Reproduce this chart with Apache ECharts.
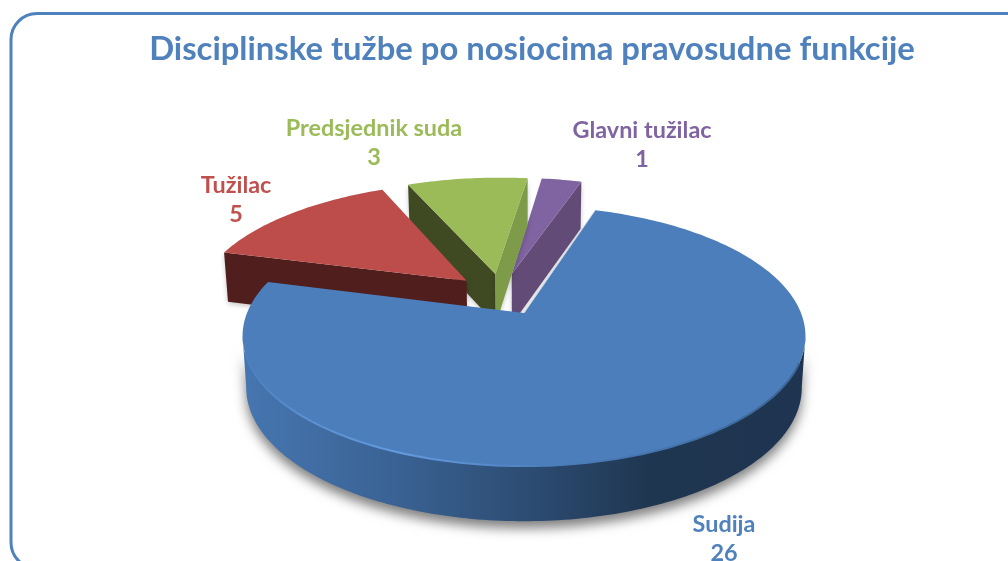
<!DOCTYPE html>
<html><head><meta charset="utf-8">
<style>html,body{margin:0;padding:0;background:#fff}#c{width:1008px;height:561px}</style>
<script src="https://cdn.jsdelivr.net/npm/echarts@6/dist/echarts.min.js"></script>
</head><body><div id="c"></div>
<script>
const categories = ['Sudija', 'Tužilac', 'Predsjednik suda', 'Glavni tužilac'];
const values = [26, 5, 3, 1];
const titleText = 'Disciplinske tužbe po nosiocima pravosudne funkcije';

const topColors = ['#4C7EBB', '#BC4D4A', '#9BBB59', '#8064A2'];
const startWallColors = ['#2B4A6F', '#4F1E1D', '#3F4A22', '#4F3D63'];
const endWallColors = ['#2B4A6F', '#4F1E1D', '#7E9B4A', '#634B78'];
const labelColors = ['#4F81BD', '#C0504D', '#9BBB59', '#8064A2'];
const labelAnchors = [[724, 524], [236, 185], [374, 128], [642, 130]];
const labelFont = 'bold 23.4px Lato, "Open Sans", sans-serif';

// perspective view of the pie plane
const view = { cx: 524, cy: 313, a: 277, b: 126, k: 0.177, depth: 51, shrink: 0.987, firstAngle: 17.5, explode: 0.175 };
const total = values.reduce((s, v) => s + v, 0);
const rad = d => d * Math.PI / 180;
const dir = d => [Math.sin(rad(d)), Math.cos(rad(d))];

function project(u, v, lower) {
  const w = 1 + view.k * v;
  let x = view.cx + view.a * u / w;
  let y = view.cy - view.b * v / w;
  if (lower) { x = view.cx + (x - view.cx) * view.shrink; y += view.depth / Math.pow(w, 0.4); }
  return [x, y];
}
function sliceAngles(i) {
  let s = view.firstAngle;
  for (let j = 0; j < i; j++) s += values[j] / total * 360;
  return [s, s + values[i] / total * 360];
}
const [a0, a1] = sliceAngles(0);
const baseDir = dir((a0 + a1) / 2);
const origin = [-view.explode * baseDir[0], -view.explode * baseDir[1]];

function renderItem(params, api) {
  const i = params.dataIndex;
  const val = api.value(0);
  const [s, e] = sliceAngles(i);
  const m = (s + e) / 2;
  const md = dir(m);
  const c = [origin[0] + view.explode * md[0], origin[1] + view.explode * md[1]];
  const pt = (deg, r, lower) => { const d = dir(deg); return project(c[0] + r * d[0], c[1] + r * d[1], lower); };
  const apex = pt(0, 0, false), apexLow = pt(0, 0, true);
  const arc = (from, to, lower) => {
    const out = [], n = Math.max(2, Math.ceil(Math.abs(to - from)));
    for (let t = 0; t <= n; t++) out.push(pt(from + (to - from) * t / n, 1, lower));
    return out;
  };
  const base = 10 * (categories.length - i);
  const children = [];
  // front of the outer rim
  const fs = Math.max(s, 100), fe = Math.min(e, 260);
  const isBlue = i === 0;
  if (fe > fs) {
    const fill = isBlue ? { type: 'linear', x: 243, y: 0, x2: 806, y2: 0, global: true, colorStops: [
      { offset: 0, color: '#4676B0' }, { offset: 0.25, color: '#3B6496' }, { offset: 0.5, color: '#2D4D74' },
      { offset: 0.72, color: '#1F3650' }, { offset: 1, color: '#1E3450' }] } : startWallColors[i];
    children.push({ type: 'polygon', z2: base, shape: { points: arc(fs, fe, false).concat(arc(fs, fe, true).reverse()) },
      style: { fill, shadowColor: 'rgba(0,0,0,0.5)', shadowBlur: 12, shadowOffsetY: 7 } });
  }
  // radial walls that face the viewer
  const mp = pt(m, 0.5, false);
  const wall = (deg, fill) => {
    const r = pt(deg, 1, false), rl = pt(deg, 1, true);
    const ex = r[0] - apex[0], ey = r[1] - apex[1];
    const inner = ex * (mp[1] - apex[1]) - ey * (mp[0] - apex[0]);
    if (ex * inner < 0) {
      children.push({ type: 'polygon', z2: base + 1, shape: { points: [apex, r, rl, apexLow] },
        style: { fill, shadowColor: 'rgba(0,0,0,0.22)', shadowBlur: 5, shadowOffsetY: 2 } });
    }
  };
  wall(s, startWallColors[i]);
  wall(e, endWallColors[i]);
  // top face
  children.push({ type: 'polygon', z2: base + 2, shape: { points: [apex].concat(arc(s, e, false)) }, style: { fill: topColors[i] } });
  if (isBlue) {
    // soft rim highlight
    children.push({ type: 'polyline', z2: base + 3, shape: { points: arc(112, 252, false) },
      style: { fill: null, lineWidth: 2, lineCap: 'round', stroke: { type: 'linear', x: 243, y: 0, x2: 806, y2: 0, global: true, colorStops: [
        { offset: 0, color: '#4C7EBB' }, { offset: 0.1, color: '#5A8FD0' }, { offset: 0.28, color: '#639BE0' }, { offset: 0.55, color: '#4C7EBB' }, { offset: 1, color: '#3A6594' }] } } });
    children.push({ type: 'polyline', z2: base + 3, shape: { points: [apex, pt(s, 1, false)] },
      style: { fill: null, lineWidth: 1, stroke: '#C9D4E2' } });
  }
  // label
  const [lx, ly] = labelAnchors[i];
  children.push({ type: 'text', z2: 100, style: { text: categories[i], x: lx, y: ly, textAlign: 'center', textVerticalAlign: 'middle', font: labelFont, fill: labelColors[i] } });
  children.push({ type: 'text', z2: 100, style: { text: String(val), x: lx, y: ly + 29, textAlign: 'center', textVerticalAlign: 'middle', font: labelFont, fill: labelColors[i] } });
  return { type: 'group', children };
}

const chart = echarts.init(document.getElementById('c'), null, { renderer: 'canvas' });
chart.setOption({
  animation: false,
  backgroundColor: '#fff',
  title: { text: titleText, left: 527, top: 28, textAlign: 'center',
    textStyle: { color: '#4F81BD', fontFamily: 'Lato, "Open Sans", sans-serif', fontWeight: 'bold', fontSize: 32.8 } },
  graphic: [{ type: 'rect', silent: true, z: -1, shape: { x: 11, y: 13.5, width: 1040, height: 555, r: 26 },
    style: { fill: '#fff', stroke: '#4F81BD', lineWidth: 3 } }],
  series: [{ type: 'custom', coordinateSystem: 'none', silent: true, renderItem,
    data: values.map((v, i) => ({ name: categories[i], value: [v] })) }]
});
</script></body></html>
